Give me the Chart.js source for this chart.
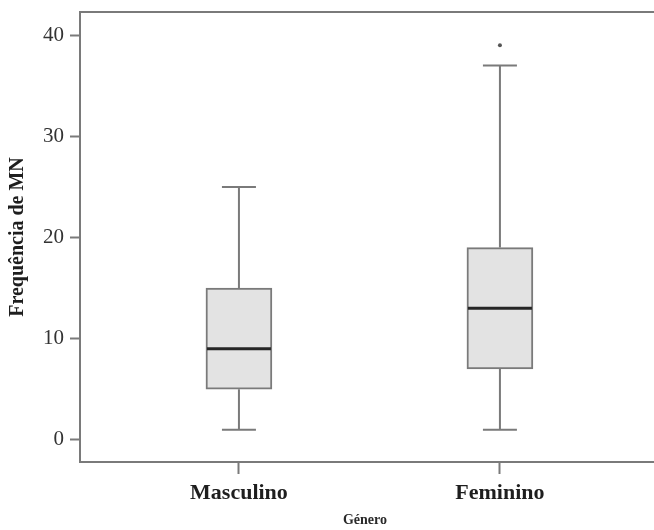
<!DOCTYPE html>
<html>
<head>
<meta charset="utf-8">
<script src="https://cdn.jsdelivr.net/npm/chart.js@4.4.1/dist/chart.umd.min.js"></script>
<style>
  html, body { margin: 0; padding: 0; background: #fff; }
  canvas { display: block; }
</style>
</head>
<body>
<canvas id="chart" width="654" height="530"></canvas>
<script>
// Frequência de MN por género (boxplot)
const genders = ['Masculino', 'Feminino'];
const whiskerLow = [1, 1];
const q1 = [5, 7];
const median = [9, 13];
const q3 = [15, 19];
const whiskerHigh = [25, 37];
const outliers = [[], [39]];
const yTicks = [0, 10, 20, 30, 40];

const lineColor = '#7a7a7a';
const serif = "'Liberation Serif', 'Times New Roman', serif";

// whiskers + caps under the boxes, median line on top
const boxParts = {
    id: 'boxParts',
    beforeDatasetsDraw(chart) {
        const { ctx, scales: { x, y } } = chart;
        ctx.save();
        ctx.strokeStyle = lineColor;
        ctx.lineWidth = 2;
        genders.forEach((g, i) => {
            const cx = x.getPixelForValue(i);
            ctx.beginPath();
            ctx.moveTo(cx, y.getPixelForValue(q3[i]));
            ctx.lineTo(cx, y.getPixelForValue(whiskerHigh[i]));
            ctx.moveTo(cx, y.getPixelForValue(q1[i]));
            ctx.lineTo(cx, y.getPixelForValue(whiskerLow[i]));
            [whiskerHigh[i], whiskerLow[i]].forEach(v => {
                const py = y.getPixelForValue(v);
                ctx.moveTo(cx - 17, py);
                ctx.lineTo(cx + 17, py);
            });
            ctx.stroke();
        });
        ctx.restore();
    },
    afterDatasetsDraw(chart) {
        const { ctx, chartArea, scales: { x, y } } = chart;
        ctx.save();
        ctx.strokeStyle = '#262626';
        ctx.lineWidth = 3;
        genders.forEach((g, i) => {
            const cx = x.getPixelForValue(i);
            const py = y.getPixelForValue(median[i]);
            ctx.beginPath();
            ctx.moveTo(cx - 32, py);
            ctx.lineTo(cx + 32, py);
            ctx.stroke();
        });
        // frame: top line, bottom line run out to the canvas edge
        ctx.strokeStyle = lineColor;
        ctx.lineWidth = 2;
        ctx.beginPath();
        ctx.moveTo(chartArea.left, chartArea.top);
        ctx.lineTo(chart.width, chartArea.top);
        ctx.moveTo(chartArea.right - 2, chartArea.bottom);
        ctx.lineTo(chart.width, chartArea.bottom);
        ctx.stroke();
        ctx.restore();
    }
};

const boxData = genders.map((g, i) => ({ x: i, y: [q1[i], q3[i]] }));
const outlierData = [];
outliers.forEach((list, i) => list.forEach(v => outlierData.push({ x: i, y: v })));

new Chart(document.getElementById('chart'), {
    type: 'bar',
    data: {
        datasets: [
            {
                data: boxData,
                backgroundColor: '#e3e3e3',
                borderColor: lineColor,
                borderWidth: 2,
                borderSkipped: false,
                barThickness: 66
            },
            {
                type: 'scatter',
                data: outlierData,
                pointRadius: 2,
                pointBackgroundColor: '#555',
                pointBorderWidth: 0
            }
        ]
    },
    options: {
        responsive: false,
        animation: false,
        layout: { padding: { top: 12, right: 0, left: 0, bottom: 0 } },
        plugins: { legend: { display: false }, tooltip: { enabled: false } },
        scales: {
            x: {
                type: 'linear',
                offset: false,
                min: -0.609,
                max: 1.575,
                afterBuildTicks: s => { s.ticks = genders.map((g, i) => ({ value: i })); },
                afterFit: s => { s.height = 68; s.paddingLeft = 0; s.paddingRight = 0; },
                grid: { offset: false, drawOnChartArea: false, drawTicks: true, tickLength: 12, tickColor: lineColor, tickWidth: 2 },
                border: { color: lineColor, width: 2 },
                ticks: {
                    callback: v => genders[v],
                    color: '#1e1e1e',
                    padding: 6,
                    maxRotation: 0,
                    font: { family: serif, size: 22, weight: 'bold' }
                },
                title: {
                    display: true,
                    text: 'Género',
                    color: '#2a2a2a',
                    padding: { top: 0, bottom: 1 },
                    font: { family: serif, size: 14, weight: 'bold' }
                }
            },
            y: {
                min: -2.2,
                max: 42.3,
                afterBuildTicks: s => { s.ticks = yTicks.map(v => ({ value: v })); },
                afterFit: s => { s.width = 80; s.paddingTop = 0; s.paddingBottom = 0; },
                grid: { drawOnChartArea: false, drawTicks: true, tickLength: 10, tickColor: lineColor, tickWidth: 2 },
                border: { color: lineColor, width: 2 },
                ticks: {
                    color: '#333',
                    padding: 6,
                    font: { family: serif, size: 21 }
                },
                title: {
                    display: true,
                    text: 'Frequência de MN',
                    color: '#1e1e1e',
                    padding: { top: 6, bottom: 0 },
                    font: { family: serif, size: 20, weight: 'bold' }
                }
            }
        }
    },
    plugins: [boxParts]
});
</script>
</body>
</html>
